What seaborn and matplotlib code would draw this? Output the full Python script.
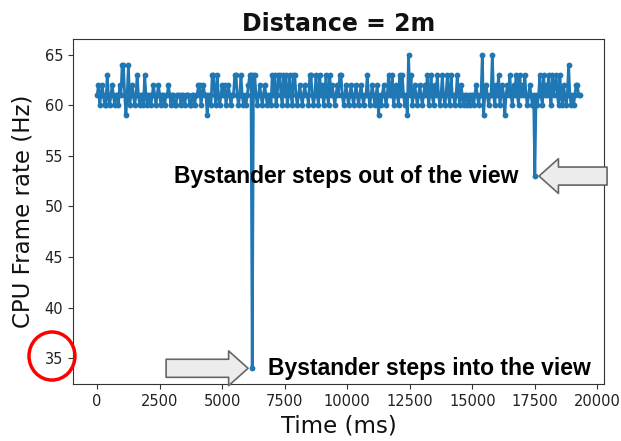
import numpy as np
import pandas as pd
import seaborn as sns
import matplotlib as mpl
import matplotlib.pyplot as plt
from matplotlib.patches import Ellipse

sns.set_style("ticks")
mpl.rcParams['font.family'] = ['DejaVu Sans']

# CPU frame rate sampled every 50 ms (one row = 1 s)
step_ms = 50
fps = [
    61, 62, 60, 61, 62, 61, 60, 60, 63, 61, 60, 61, 62, 61, 60, 61, 61, 60, 62, 61,
    64, 64, 61, 59, 61, 64, 60, 61, 62, 61, 60, 61, 63, 61, 60, 61, 61, 60, 63, 61,
    60, 61, 61, 60, 61, 62, 61, 60, 61, 62, 61, 60, 61, 61, 60, 61, 61, 62, 61, 60,
    61, 61, 60, 60, 61, 61, 61, 60, 61, 61, 60, 61, 61, 61, 60, 60, 61, 61, 60, 61,
    61, 62, 62, 60, 61, 62, 61, 61, 59, 61, 61, 60, 63, 63, 61, 60, 63, 61, 60, 61,
    62, 61, 62, 60, 61, 62, 61, 60, 61, 61, 63, 63, 61, 60, 61, 63, 61, 60, 61, 60,
    61, 62, 63, 63, 34, 63, 63, 61, 60, 61, 62, 61, 60, 61, 62, 61, 60, 61, 61, 60,
    63, 61, 63, 60, 61, 63, 63, 61, 60, 63, 61, 63, 60, 61, 63, 61, 60, 63, 63, 61,
    60, 61, 62, 61, 60, 61, 62, 61, 61, 60, 63, 63, 61, 60, 61, 63, 61, 60, 63, 61,
    62, 60, 61, 63, 61, 60, 63, 61, 62, 61, 60, 61, 62, 61, 63, 63, 61, 60, 61, 62,
    61, 60, 61, 62, 61, 60, 61, 62, 61, 60, 61, 62, 61, 60, 61, 61, 63, 61, 60, 61,
    62, 61, 60, 61, 62, 59, 61, 60, 61, 62, 61, 60, 61, 63, 61, 61, 63, 60, 61, 62,
    61, 60, 63, 61, 63, 61, 60, 61, 59, 65, 61, 63, 60, 61, 62, 61, 60, 61, 62, 61,
    60, 61, 62, 61, 63, 60, 61, 63, 61, 60, 62, 61, 63, 61, 60, 61, 63, 61, 60, 61,
    63, 61, 60, 63, 61, 61, 60, 61, 63, 61, 60, 62, 61, 60, 61, 61, 60, 61, 60, 61,
    61, 60, 61, 62, 61, 60, 61, 61, 65, 59, 61, 62, 61, 60, 61, 61, 65, 61, 60, 62,
    61, 63, 60, 61, 62, 61, 59, 61, 62, 61, 63, 61, 60, 62, 61, 63, 61, 60, 63, 61,
    62, 61, 63, 61, 60, 61, 62, 61, 60, 61, 53, 61, 60, 61, 63, 61, 60, 63, 61, 62,
    61, 63, 61, 60, 63, 61, 62, 63, 61, 60, 63, 61, 60, 62, 61, 60, 61, 64, 61, 60,
    61, 60, 61, 62, 62, 61, 61,
]
time_ms = np.arange(len(fps)) * step_ms
df = pd.DataFrame({'time': time_ms, 'fps': fps})

fig = plt.figure(figsize=(6.21, 4.41), dpi=100)
ax = fig.add_axes([0.1176, 0.1293, 0.855, 0.7823])
sns.lineplot(data=df, x='time', y='fps', marker='o', markersize=4.2,
             markeredgewidth=0, color='#1f77b4', linewidth=2, ax=ax)

ax.set_yticks([35, 40, 45, 50, 55, 60, 65])
ax.set_xticks([0, 2500, 5000, 7500, 10000, 12500, 15000, 17500, 20000])
ax.tick_params(labelsize=10.5, colors='#333333', labelcolor='#222222')
for s in ax.spines.values():
    s.set_color('#333333')
ax.set_xlabel('Time (ms)', fontsize=16.5, color='#111111')
ax.set_ylabel('CPU Frame rate (Hz)', fontsize=16.5, color='#111111', labelpad=7)
ax.set_title('Distance = 2m', fontsize=17, fontweight='bold', color='#111111')

# annotations at the two drops
d_in = df.loc[df['fps'].idxmin()]
d_out = df.loc[df[df['time'] > 15000]['fps'].idxmin()]
arrow = dict(arrowstyle='simple,head_length=0.7,head_width=1.25,tail_width=0.65',
             fc='#ececec', ec='#666666', lw=1.2, shrinkA=0, shrinkB=3,
             mutation_scale=20)
ax.annotate('', xy=(d_in['time'], d_in['fps']), xytext=(-62, 0),
            textcoords='offset points', arrowprops=arrow, annotation_clip=False)
ax.annotate('', xy=(d_out['time'], d_out['fps']), xytext=(52, 0),
            textcoords='offset points', arrowprops=arrow, annotation_clip=False)
ax.annotate('Bystander steps into the view', xy=(d_in['time'], d_in['fps']),
            xytext=(11, 0), textcoords='offset points', ha='left', va='center',
            fontsize=16.5, fontweight='bold', family=['Liberation Sans'], color='black')
ax.annotate('Bystander steps out of the view', xy=(d_out['time'], d_out['fps']),
            xytext=(-12, 0), textcoords='offset points', ha='right', va='center',
            fontsize=16.5, fontweight='bold', family=['Liberation Sans'], color='black')

# red circle around the 35 tick label
fig.patches.append(Ellipse((0.0837, 0.1927), 0.074, 0.109, transform=fig.transFigure,
                           fill=False, ec='red', lw=2.5))

fig.savefig('out.png', dpi=100)
